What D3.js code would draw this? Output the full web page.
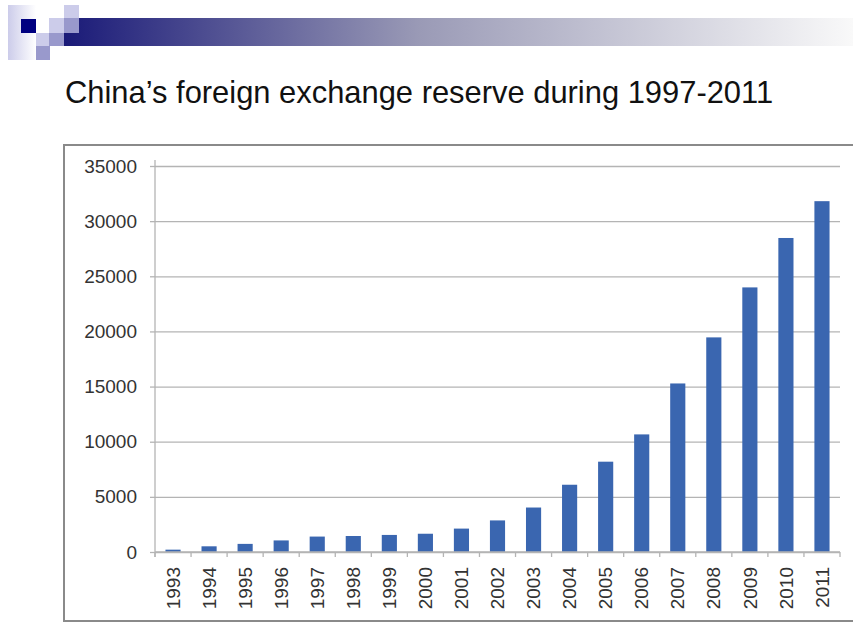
<!DOCTYPE html>
<html>
<head>
<meta charset="utf-8">
<script src="https://cdn.jsdelivr.net/npm/d3@7"></script>
<style>
  html, body { margin: 0; padding: 0; background: #fff; }
  svg { display: block; }
</style>
</head>
<body>
<svg id="chart" width="853" height="626"></svg>
<script>
// Foreign exchange reserve (100 million USD), year-end
const years = ["1993","1994","1995","1996","1997","1998","1999","2000","2001","2002",
               "2003","2004","2005","2006","2007","2008","2009","2010","2011"];
const reserves = [212, 516, 736, 1050, 1399, 1450, 1547, 1656, 2122, 2864,
                  4033, 6099, 8189, 10663, 15282, 19460, 23992, 28473, 31811];
const yTicks = [0, 5000, 10000, 15000, 20000, 25000, 30000, 35000];
const titleText = "China\u2019s foreign exchange reserve during 1997-2011";

const svg = d3.select("#chart");

// ---- slide header decoration ----
const defs = svg.append("defs");
const band = defs.append("linearGradient").attr("id", "hdrBand")
  .attr("x1", "0%").attr("x2", "100%");
band.append("stop").attr("offset", "0%").attr("stop-color", "#1a1a78");
band.append("stop").attr("offset", "45%").attr("stop-color", "#9a9ab6");
band.append("stop").attr("offset", "100%").attr("stop-color", "#f9f9f9");
const fade = defs.append("linearGradient").attr("id", "hdrFade")
  .attr("x1", "0%").attr("x2", "100%");
fade.append("stop").attr("offset", "0%").attr("stop-color", "#ccccea");
fade.append("stop").attr("offset", "100%").attr("stop-color", "#ffffff");

const hdr = svg.append("g");
hdr.append("rect").attr("x", 64).attr("y", 18).attr("width", 789).attr("height", 28).attr("fill", "url(#hdrBand)");
hdr.append("rect").attr("x", 8).attr("y", 5).attr("width", 28).attr("height", 55).attr("fill", "url(#hdrFade)");
const squares = [
  [21, 19, 15, 14, "#000080"],
  [49, 18, 15, 15, "#ccccea"],
  [64, 5, 15, 13, "#ccccea"],
  [64, 18, 15, 15, "#9999cc"],
  [36, 33, 13, 13, "#ccccea"],
  [49, 33, 15, 13, "#9999cc"],
  [36, 46, 14, 14, "#9999cc"]
];
hdr.selectAll("rect.sq").data(squares).join("rect").attr("class", "sq")
  .attr("x", d => d[0]).attr("y", d => d[1])
  .attr("width", d => d[2]).attr("height", d => d[3])
  .attr("fill", d => d[4]);

// ---- title ----
svg.append("text")
  .attr("x", 65).attr("y", 103)
  .attr("font-family", "Liberation Sans, Arial, sans-serif")
  .attr("font-size", 30.9)
  .attr("fill", "#111")
  .text(titleText);

// ---- chart frame ----
svg.append("rect")
  .attr("x", 64).attr("y", 145).attr("width", 800).attr("height", 476)
  .attr("fill", "#fff").attr("stroke", "#8a8a8a").attr("stroke-width", 2);

// ---- plot ----
const plot = { left: 155, right: 840, top: 166, bottom: 552 };
const x = d3.scaleBand().domain(years)
  .range([plot.left, plot.right]).paddingInner(0.58).paddingOuter(0.29);
const y = d3.scaleLinear().domain([0, 35000]).range([plot.bottom, plot.top]);

const fontFam = "Liberation Sans, Arial, sans-serif";
const axisGrey = "#b4b4b4";

// y axis with gridlines
const yAxis = svg.append("g")
  .attr("transform", `translate(${plot.left},0)`)
  .call(d3.axisLeft(y).tickValues(yTicks).tickSize(-(plot.right - plot.left)).tickPadding(18).tickFormat(d3.format("d")));
yAxis.select(".domain").remove();
yAxis.selectAll(".tick line").attr("stroke", axisGrey).attr("stroke-width", 1.3);
yAxis.selectAll(".tick").append("line")
  .attr("x1", -5).attr("x2", 0).attr("stroke", axisGrey).attr("stroke-width", 1.3);
yAxis.selectAll(".tick text")
  .attr("font-family", fontFam).attr("font-size", 19).attr("fill", "#333");

// vertical axis line
svg.append("line")
  .attr("x1", plot.left).attr("x2", plot.left)
  .attr("y1", plot.top - 6).attr("y2", plot.bottom + 5)
  .attr("stroke", axisGrey).attr("stroke-width", 1.3);

// category boundary ticks under the baseline
const bounds = d3.range(years.length + 1).map(i => plot.left + i * (plot.right - plot.left) / years.length);
svg.append("g").selectAll("line").data(bounds).join("line")
  .attr("x1", d => d).attr("x2", d => d)
  .attr("y1", plot.bottom).attr("y2", plot.bottom + 5)
  .attr("stroke", axisGrey).attr("stroke-width", 1.3);

// bars
svg.append("g").selectAll("rect").data(years).join("rect")
  .attr("x", d => x(d))
  .attr("width", x.bandwidth())
  .attr("y", (d, i) => y(reserves[i]))
  .attr("height", (d, i) => y(0) - y(reserves[i]))
  .attr("fill", "#3a66b0");

// x category labels, rotated
const xAxis = svg.append("g")
  .attr("transform", `translate(0,${plot.bottom})`)
  .call(d3.axisBottom(x).tickSize(0).tickPadding(0));
xAxis.select(".domain").attr("stroke", axisGrey).attr("stroke-width", 1.3)
  .attr("d", `M${plot.left},0H${plot.right}`);
xAxis.selectAll(".tick text")
  .attr("font-family", fontFam).attr("font-size", 19).attr("fill", "#333")
  .attr("text-anchor", "end")
  .attr("transform", "rotate(-90)")
  .attr("x", -15).attr("y", 0).attr("dy", "0.35em");
</script>
</body>
</html>
